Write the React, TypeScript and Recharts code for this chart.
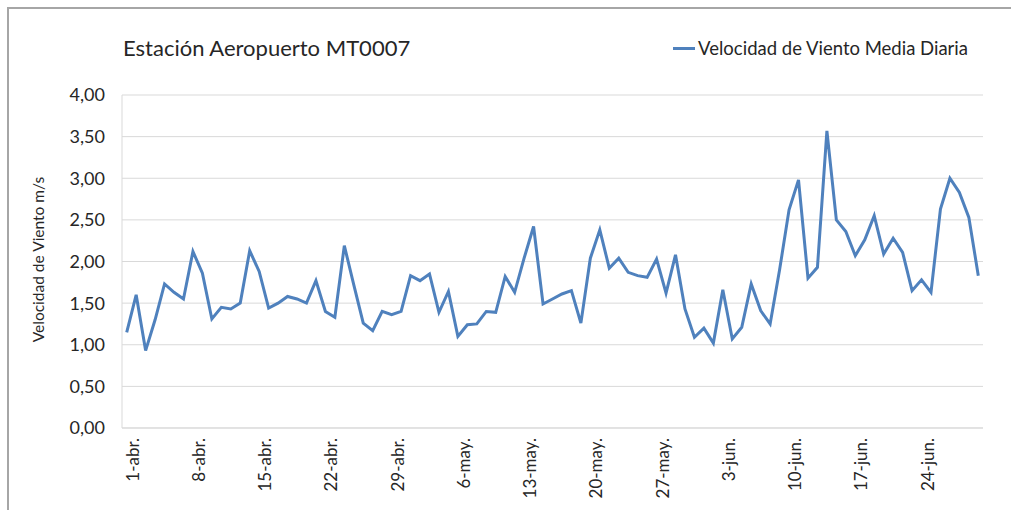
import React from 'react'
import { CartesianGrid, Line, LineChart, XAxis, YAxis } from 'recharts'

const months = ['abr.', 'may.', 'jun.']
const monthDays = [30, 31, 30]

// one label per day, 1-abr. .. 30-jun.
const dayLabels: string[] = []
months.forEach((m, mi) => {
  for (let d = 1; d <= monthDays[mi]; d++) dayLabels.push(`${d}-${m}`)
})

const windSpeed = [
  1.15, 1.6, 0.93, 1.3, 1.73, 1.63, 1.55, 2.12, 1.86, 1.31,
  1.45, 1.43, 1.5, 2.13, 1.88, 1.44, 1.5, 1.58, 1.55, 1.5,
  1.77, 1.4, 1.33, 2.19, 1.72, 1.26, 1.17, 1.4, 1.36, 1.4,
  1.83, 1.77, 1.85, 1.39, 1.64, 1.1, 1.24, 1.25, 1.4, 1.39,
  1.82, 1.63, 2.04, 2.42, 1.49, 1.55, 1.61, 1.65, 1.26, 2.04,
  2.38, 1.92, 2.04, 1.87, 1.83, 1.81, 2.03, 1.62, 2.08, 1.43,
  1.09, 1.2, 1.02, 1.66, 1.07, 1.21, 1.73, 1.41, 1.25, 1.9,
  2.62, 2.98, 1.8, 1.93, 3.57, 2.5, 2.36, 2.07, 2.26, 2.55,
  2.09, 2.28, 2.11, 1.65, 1.78, 1.63, 2.63, 3.0, 2.83, 2.53,
  1.83,
]

const yTicks = [0, 0.5, 1, 1.5, 2, 2.5, 3, 3.5, 4]
const seriesName = 'Velocidad de Viento Media Diaria'

const data = dayLabels.map((label, i) => ({ label, v: windSpeed[i] }))

const font = 'Lato, "Open Sans", sans-serif'

export default function App() {
  return (
    <div style={{ position: 'absolute', left: 0, top: 0, width: 1011, height: 510, background: '#fff' }}>
      <div
        style={{
          position: 'absolute', left: 7, top: 7, width: 1004, height: 503,
          borderLeft: '2px solid #a6a6a6', borderTop: '2px solid #a6a6a6', boxSizing: 'border-box',
        }}
      />
      <div style={{ position: 'absolute', left: 123, top: 34, fontFamily: font, fontSize: 22, color: '#262626' }}>
        Estación Aeropuerto MT0007
      </div>
      <div
        style={{
          position: 'absolute', right: 43, top: 37, display: 'flex', alignItems: 'center',
          fontFamily: font, fontSize: 18.5, color: '#262626',
        }}
      >
        <span style={{ display: 'inline-block', width: 22, height: 3, background: '#4f81bd', marginRight: 3 }} />
        {seriesName}
      </div>
      <LineChart width={1011} height={510} data={data} margin={{ top: 95, right: 28, bottom: 0, left: 0 }}>
        <CartesianGrid vertical={false} stroke="#d9d9d9" />
        <XAxis
          dataKey="label"
          interval={6}
          tickLine={false}
          tickMargin={4}
          angle={-90}
          textAnchor="end"
          padding={{ left: 4.7, right: 4.7 }}
          axisLine={{ stroke: '#d9d9d9' }}
          tick={{ fontFamily: font, fontSize: 17, fill: '#262626' }}
          height={82}
        />
        <YAxis
          width={122}
          domain={[0, 4]}
          ticks={yTicks}
          tickLine={false}
          tickMargin={11}
          axisLine={{ stroke: '#d9d9d9' }}
          tickFormatter={(v: number) => v.toFixed(2).replace('.', ',')}
          tick={{ fontFamily: font, fontSize: 18, fill: '#262626' }}
          label={({ viewBox }: any) => {
            const cy = viewBox.y + viewBox.height / 2 - 2
            return (
              <text
                x={44}
                y={cy}
                transform={`rotate(-90 44 ${cy})`}
                textAnchor="middle"
                fontFamily={font}
                fontSize={15.5}
                fill="#262626"
              >
                Velocidad de Viento m/s
              </text>
            )
          }}
        />
        <Line
          type="linear"
          dataKey="v"
          name={seriesName}
          stroke="#4f81bd"
          strokeWidth={3}
          dot={false}
          isAnimationActive={false}
        />
      </LineChart>
    </div>
  )
}
